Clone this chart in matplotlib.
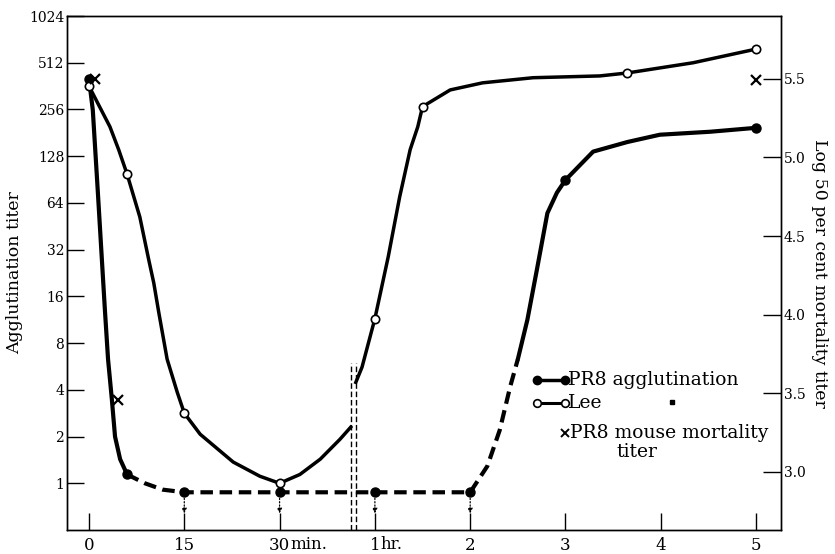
import numpy as np
import matplotlib.pyplot as plt
from matplotlib.ticker import FixedLocator, NullLocator

plt.rcParams['font.family'] = ['DejaVu Serif']

# --- data -----------------------------------------------------------------
# first part of the time axis is in minutes, second part in hours
pr8_min = [0, 6, 15, 30]
pr8_min_titer = [402, 1.14, 0.875, 0.875]
pr8_hr = [1, 2, 3, 5]
pr8_hr_titer = [0.875, 0.875, 90, 195]

lee_min = [0, 6, 15, 30]
lee_min_titer = [362, 98, 2.83, 1.0]
lee_hr = [1, 1.5, 3.65, 5]
lee_hr_titer = [11.5, 267, 440, 627]

# mouse mortality (log 50 per cent mortality titer, right axis)
mort_min = [1, 4.6]
mort_min_val = [5.5, 3.46]
mort_hr = [5]
mort_hr_val = [5.49]

# speck printed in the figure near the legend
speck_hr = [4.12]
speck_titer = [3.35]

# traced curves
pr8_solid1_min = [0, 0.6, 1.4, 2.2, 2.5, 3.0, 3.6, 4.1, 4.9, 6]
pr8_solid1_titer = [402, 254, 74.5, 21.1, 13.2, 6.3, 3.47, 2.0, 1.43, 1.14]
pr8_dash1_min = [6, 8.8, 11.6, 15, 30, 41.2]
pr8_dash1_titer = [1.14, 1.0, 0.91, 0.875, 0.875, 0.875]
pr8_dash2_hr = [0.80, 1, 2, 2.18, 2.31, 2.42, 2.50]
pr8_dash2_titer = [0.875, 0.875, 0.875, 1.29, 2.2, 4.2, 6.3]
pr8_solid2_hr = [2.50, 2.60, 2.70, 2.81, 2.91, 3.0, 3.29, 3.65, 3.99, 4.52, 5.0]
pr8_solid2_titer = [6.3, 11.3, 23.8, 55, 74.5, 90, 137, 158, 176, 184, 195]

lee_curve1_min = [0, 1.6, 3.3, 4.7, 6, 8.0, 9.4, 10.2, 11.0, 12.3, 13.9, 15,
                  17.5, 22.7, 26.9, 30, 33.2, 36.4, 39.5, 41.2]
lee_curve1_titer = [362, 270, 198, 140, 98, 52, 27.6, 19.5, 12.5, 6.3, 3.85,
                    2.83, 2.07, 1.37, 1.11, 1.0, 1.14, 1.43, 1.92, 2.3]
lee_curve2_hr = [0.80, 0.865, 1.0, 1.14, 1.26, 1.37, 1.45, 1.5, 1.79, 2.13,
                 2.66, 3.36, 3.65, 4.34, 5.0]
lee_curve2_titer = [4.47, 5.6, 11.5, 28.8, 70, 141, 198, 267, 342, 380, 410,
                    421, 440, 512, 627]

less_than_min = [15, 30]
less_than_hr = [1, 2]

left_ticks = [1, 2, 4, 8, 16, 32, 64, 128, 256, 512, 1024]
right_ticks = [3.0, 3.5, 4.0, 4.5, 5.0, 5.5]
x_tick_min = [0, 15, 30]
x_tick_hr = [1, 2, 3, 4, 5]


def mpos(m):
    return np.asarray(m, dtype=float) / 15.0


def hpos(h):
    return 2.0 + np.asarray(h, dtype=float)


fig = plt.figure(figsize=(8.35, 5.54), dpi=100)
ax = fig.add_axes([0.0802, 0.0433, 0.8551, 0.9278])
ax.set_yscale('log', base=2)
ax.set_xlim(-0.231, 7.261)
ax.set_ylim(0.5, 1024)

lw_pr8 = 3.0
lw_lee = 2.5
dash = (3, 1.6)

ax.plot(mpos(pr8_solid1_min), pr8_solid1_titer, color='black', lw=lw_pr8,
        solid_capstyle='round', solid_joinstyle='round')
ax.plot(mpos(pr8_dash1_min), pr8_dash1_titer, color='black', lw=lw_pr8,
        dashes=dash)
ax.plot(hpos(pr8_dash2_hr), pr8_dash2_titer, color='black', lw=lw_pr8,
        dashes=dash)
ax.plot(hpos(pr8_solid2_hr), pr8_solid2_titer, color='black', lw=lw_pr8,
        solid_capstyle='round', solid_joinstyle='round')

ax.plot(mpos(lee_curve1_min), lee_curve1_titer, color='black', lw=lw_lee,
        solid_joinstyle='round')
ax.plot(hpos(lee_curve2_hr), lee_curve2_titer, color='black', lw=lw_lee,
        solid_joinstyle='round')

ax.plot(np.concatenate([mpos(pr8_min), hpos(pr8_hr)]), pr8_min_titer + pr8_hr_titer,
        'o', color='black', ms=6.5, zorder=5)
ax.plot(np.concatenate([mpos(lee_min), hpos(lee_hr)]), lee_min_titer + lee_hr_titer,
        'o', mfc='white', mec='black', mew=1.2, ms=6, zorder=5)
ax.plot(hpos(speck_hr), speck_titer, 's', color='black', ms=2.5)

# "less than" arrows under the lowest PR8 points
for xp in np.concatenate([mpos(less_than_min), hpos(less_than_hr)]):
    ax.annotate('', xy=(xp, 0.64), xytext=(xp, 0.8),
                arrowprops=dict(arrowstyle='-|>', lw=0.9, ls=':', color='black',
                                mutation_scale=7, shrinkA=0, shrinkB=0))

# axis break (two dashed verticals)
for xb in [2.749, 2.80]:
    ax.axvline(xb, ymin=0, ymax=0.325, color='black', lw=1.0, dashes=(4, 2))

# x axis
xt = np.concatenate([mpos(x_tick_min), hpos(x_tick_hr)])
ax.set_xticks(xt)
ax.set_xticklabels([str(v) for v in x_tick_min] + [str(v) for v in x_tick_hr],
                   fontsize=12)
ax.annotate('min.', xy=(mpos(30), 0), xycoords=('data', 'axes fraction'),
            xytext=(8, -4.5), textcoords='offset points', ha='left', va='top',
            fontsize=12)
ax.annotate('hr.', xy=(hpos(1), 0), xycoords=('data', 'axes fraction'),
            xytext=(4, -4.5), textcoords='offset points', ha='left', va='top',
            fontsize=12)
ax.tick_params(axis='x', direction='in', length=12, width=1.0, pad=5)

ax.yaxis.set_major_locator(FixedLocator(left_ticks))
ax.yaxis.set_minor_locator(NullLocator())
ax.set_yticklabels([str(v) for v in left_ticks], fontsize=10)
ax.tick_params(axis='y', direction='in', length=12, width=1.0, pad=2)
ax.set_ylabel('Agglutination titer', fontsize=12.5, labelpad=4)

ax2 = ax.twinx()
ax2.set_ylim(2.63, 5.90)
ax2.set_yticks(right_ticks)
ax2.set_yticklabels(['%.1f' % v for v in right_ticks], fontsize=10)
ax2.tick_params(axis='y', direction='in', length=13, width=1.0, pad=2)
ax2.set_ylabel('Log 50 per cent mortality titer', fontsize=12.5,
               rotation=-90, labelpad=16)
ax2.plot(np.concatenate([mpos(mort_min), hpos(mort_hr)]), mort_min_val + mort_hr_val,
         'x', color='black', ms=7, mew=1.6)

for a in (ax, ax2):
    for s in a.spines.values():
        s.set_linewidth(1.0)

# legend drawn by hand
tr = ax.transAxes
ax.plot([0.658, 0.697], [0.292, 0.292], '-o', color='black', lw=2.5, ms=6,
        transform=tr)
ax.plot([0.658, 0.697], [0.247, 0.247], '-o', color='black', lw=2.2, ms=5.5,
        mfc='white', mew=1.2, transform=tr, zorder=5)
ax.plot([0.698], [0.189], 'x', color='black', ms=6, mew=1.4, transform=tr)
ax.text(0.702, 0.292, 'PR8 agglutination', transform=tr, va='center',
        fontsize=13.5)
ax.text(0.702, 0.247, 'Lee', transform=tr, va='center', fontsize=13.5)
ax.text(0.705, 0.189, 'PR8 mouse mortality', transform=tr, va='center',
        fontsize=13.5)
ax.text(0.770, 0.151, 'titer', transform=tr, va='center', fontsize=13.5)

fig.savefig('out.png', dpi=100)
